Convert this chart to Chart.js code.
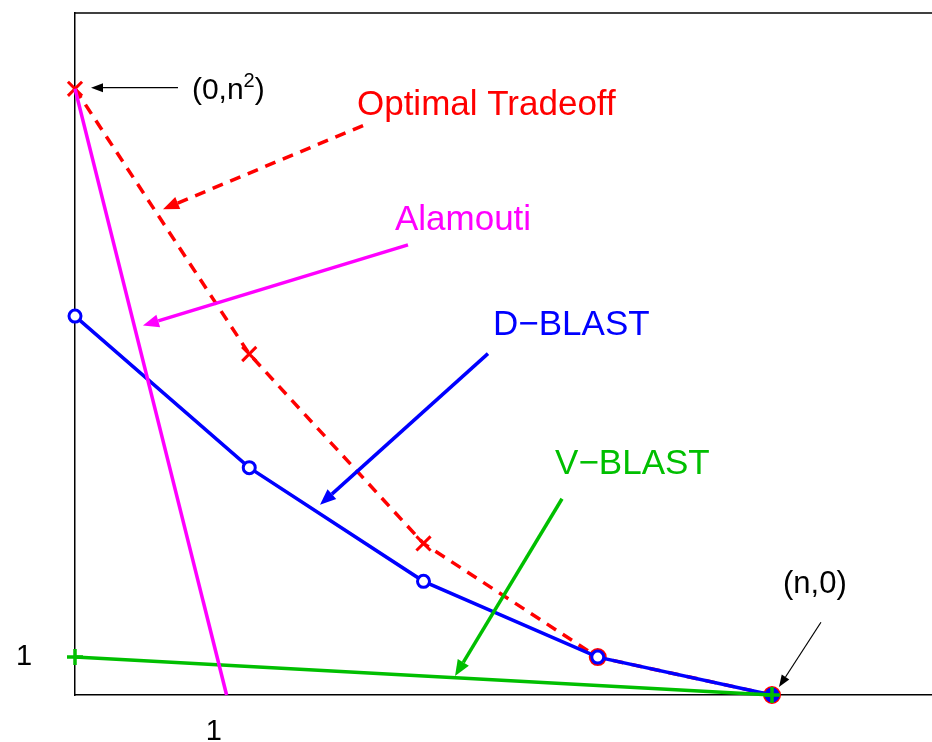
<!DOCTYPE html>
<html><head><meta charset="utf-8">
<script src="https://cdn.jsdelivr.net/npm/chart.js@4/dist/chart.umd.min.js"></script>
<style>
html,body{margin:0;padding:0;background:#fff;overflow:hidden;width:932px;height:742px}
#wrap{position:relative;width:960px;height:742px}
</style>
</head><body>
<div id="wrap"><canvas id="c" width="960" height="742"></canvas></div>
<script>
// ---- data (multiplexing gain r vs diversity gain d, n = 4) ----
const rates = [0, 1, 2, 3, 4];
const optimalDiv = [16, 9, 4, 1, 0];
const dblastDiv = [10, 6, 3, 1, 0];
const vblastRates = [0, 4];
const vblastDiv = [1, 0];
const alamoutiRates = [0, 0.87];
const alamoutiDiv = [16, 0];
const xMax = 5, yMax = 18;

// ---- annotations (data units) ----
const annotTexts = [
  {text: 'Optimal Tradeoff', x: 1.618, y: 15.32, color: '#ff0000', size: 35},
  {text: 'Alamouti', x: 1.836, y: 12.27, color: '#ff00ff', size: 35},
  {text: 'D\u2212BLAST', x: 2.399, y: 9.49, color: '#0000ff', size: 35},
  {text: 'V\u2212BLAST', x: 2.755, y: 5.83, color: '#00bf00', size: 35},
  {text: '(n,0)', x: 4.063, y: 2.68, color: '#000000', size: 31}
];
const annotArrows = [
  {x1: 0.591, y1: 16.03, x2: 0.092, y2: 16.03, color: '#000000', w: 1.2, head: 12, hw: 4.5, dash: []},
  {x1: 1.653, y1: 15.03, x2: 0.505, y2: 12.82, color: '#ff0000', w: 3.5, head: 16, hw: 6.5, dash: [11, 8]},
  {x1: 1.911, y1: 11.88, x2: 0.390, y2: 9.75, color: '#ff00ff', w: 3.5, head: 16, hw: 6.5, dash: []},
  {x1: 2.370, y1: 9.01, x2: 1.406, y2: 5.02, color: '#0000ff', w: 3.5, head: 16, hw: 6.5, dash: []},
  {x1: 2.795, y1: 5.18, x2: 2.181, y2: 0.50, color: '#00bf00', w: 3.5, head: 16, hw: 6.5, dash: []},
  {x1: 4.281, y1: 1.92, x2: 4.040, y2: 0.21, color: '#000000', w: 1.2, head: 12, hw: 4.5, dash: []}
];

const toXY = (xs, ys) => xs.map((x, i) => ({x: x, y: ys[i]}));

const annotPlugin = {
  id: 'annot',
  afterDatasetsDraw(chart) {
    const ctx = chart.ctx, xs = chart.scales.x, ys = chart.scales.y, a = chart.chartArea;
    ctx.save();
    // top frame line
    ctx.strokeStyle = '#000'; ctx.lineWidth = 1.5;
    ctx.beginPath(); ctx.moveTo(a.left, a.top); ctx.lineTo(a.right, a.top); ctx.stroke();
    // arrows
    annotArrows.forEach(ar => {
      const x1 = xs.getPixelForValue(ar.x1), y1 = ys.getPixelForValue(ar.y1);
      const x2 = xs.getPixelForValue(ar.x2), y2 = ys.getPixelForValue(ar.y2);
      const ang = Math.atan2(y2 - y1, x2 - x1);
      const bx = x2 - Math.cos(ang) * ar.head, by = y2 - Math.sin(ang) * ar.head;
      ctx.strokeStyle = ar.color; ctx.fillStyle = ar.color; ctx.lineWidth = ar.w;
      ctx.setLineDash(ar.dash); ctx.lineCap = 'butt';
      ctx.beginPath(); ctx.moveTo(x1, y1); ctx.lineTo(bx, by); ctx.stroke();
      ctx.setLineDash([]);
      ctx.beginPath();
      ctx.moveTo(x2, y2);
      ctx.lineTo(bx + Math.sin(ang) * ar.hw, by - Math.cos(ang) * ar.hw);
      ctx.lineTo(bx - Math.sin(ang) * ar.hw, by + Math.cos(ang) * ar.hw);
      ctx.closePath(); ctx.fill();
    });
    // texts
    ctx.textBaseline = 'alphabetic'; ctx.textAlign = 'left';
    annotTexts.forEach(t => {
      ctx.fillStyle = t.color;
      ctx.font = t.size + 'px "Liberation Sans", Arial, sans-serif';
      ctx.fillText(t.text, xs.getPixelForValue(t.x), ys.getPixelForValue(t.y));
    });
    // (0,n^2) with superscript
    ctx.fillStyle = '#000';
    let px = xs.getPixelForValue(0.671), py = ys.getPixelForValue(15.74);
    ctx.font = '30px "Liberation Sans", Arial, sans-serif';
    ctx.fillText('(0,n', px, py); px += ctx.measureText('(0,n').width;
    ctx.font = '20px "Liberation Sans", Arial, sans-serif';
    ctx.fillText('2', px, py - 12); px += ctx.measureText('2').width;
    ctx.font = '30px "Liberation Sans", Arial, sans-serif';
    ctx.fillText(')', px, py);
    // the "1" marks on the axes
    ctx.font = '29px "Liberation Sans", Arial, sans-serif';
    ctx.textAlign = 'center'; ctx.textBaseline = 'middle';
    ctx.fillText('1', a.left - 51, ys.getPixelForValue(1));
    ctx.textBaseline = 'alphabetic';
    ctx.fillText('1', xs.getPixelForValue(0.797), a.bottom + 45);
    ctx.restore();
  }
};

new Chart(document.getElementById('c'), {
  type: 'line',
  data: {
    datasets: [
      {label: 'Alamouti', data: toXY(alamoutiRates, alamoutiDiv), borderColor: '#ff00ff', borderWidth: 3.5,
       pointRadius: 0, order: 0, clip: false},
      {label: 'V-BLAST', data: toXY(vblastRates, vblastDiv), borderColor: '#00bf00', borderWidth: 3.5,
       pointStyle: 'cross', pointRadius: 8, pointBorderWidth: 3.5, pointBorderColor: '#00bf00', order: 1, clip: false},
      {label: 'D-BLAST', data: toXY(rates, dblastDiv), borderColor: '#0000ff', borderWidth: 3.5,
       pointStyle: 'circle', pointRadius: 6, pointBorderWidth: 3, pointBorderColor: '#0000ff',
       pointBackgroundColor: ['#fff', '#fff', '#fff', '#fff', '#0000ff'], order: 2, clip: false},
      {label: 'Optimal', data: toXY(rates, optimalDiv), borderColor: '#ff0000', borderWidth: 3.5, borderDash: [11, 8],
       pointStyle: ['crossRot', 'crossRot', 'crossRot', 'circle', 'circle'], pointRadius: [10, 10, 10, 7.5, 7.5],
       pointBorderWidth: 3, pointBorderColor: '#ff0000', pointBackgroundColor: '#ff0000', order: 3, clip: false}
    ]
  },
  options: {
    responsive: false, animation: false, devicePixelRatio: 1,
    layout: {padding: {left: 75, top: 10, right: 13.75, bottom: 47}},
    plugins: {legend: {display: false}, tooltip: {enabled: false}},
    elements: {line: {tension: 0}},
    scales: {
      x: {type: 'linear', min: 0, max: xMax, ticks: {display: false},
          grid: {display: false, drawTicks: false}, border: {display: true, color: '#000', width: 1.5}},
      y: {type: 'linear', min: 0, max: yMax, ticks: {display: false},
          grid: {display: false, drawTicks: false}, border: {display: true, color: '#000', width: 1.5}}
    }
  },
  plugins: [annotPlugin]
});
</script>
</body></html>
